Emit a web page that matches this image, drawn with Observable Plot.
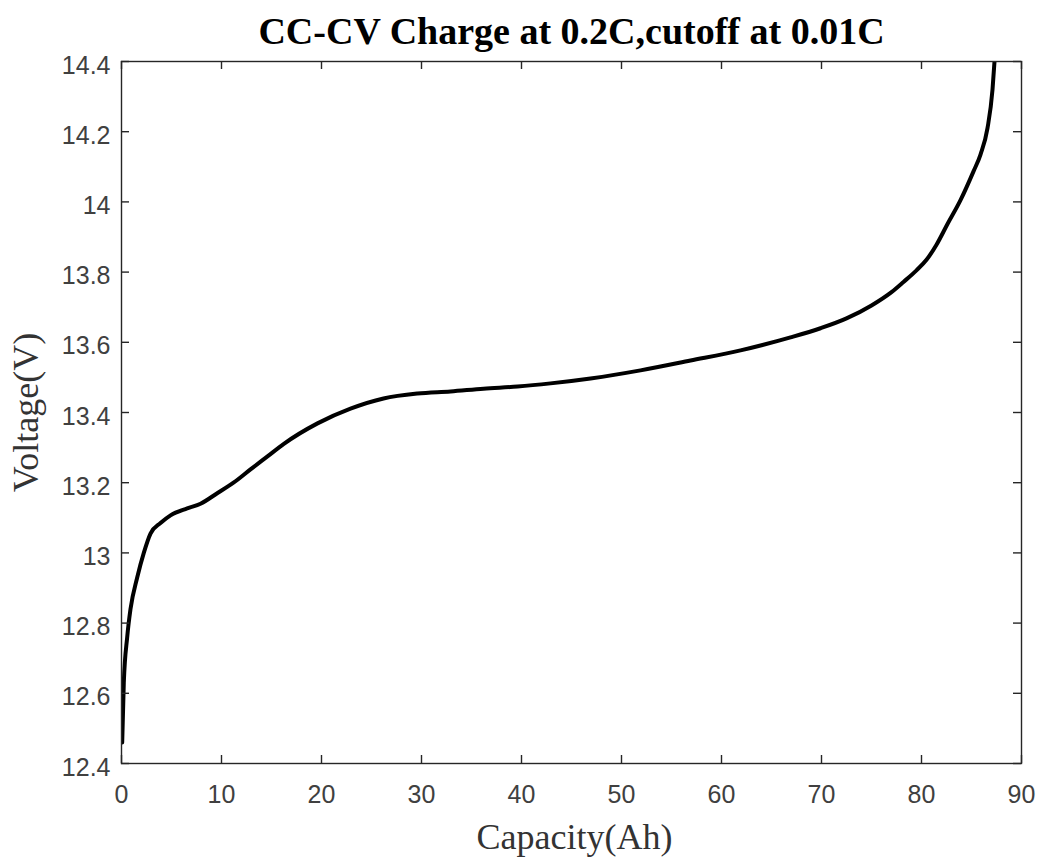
<!DOCTYPE html>
<html>
<head>
<meta charset="utf-8">
<script src="https://cdn.jsdelivr.net/npm/d3@7"></script>
<script src="https://cdn.jsdelivr.net/npm/@observablehq/plot@0.6"></script>
<style>
  html, body { margin: 0; padding: 0; background: #fff; }
  #chart { width: 1040px; height: 857px; }
</style>
</head>
<body>
<div id="chart"></div>
<script>
const titleText = "CC-CV Charge at 0.2C,cutoff at 0.01C";
const xLabel = "Capacity(Ah)";
const yLabel = "Voltage(V)";

const capacity = [0.07,0.23,0.57,0.9,1.57,2.23,2.9,3.9,4.9,6.57,7.9,9.57,11.2,12.9,14.6,16.2,19.6,22.9,26.2,29.6,32.9,36.2,39.6,42.9,46.9,51.9,56.9,61.9,66.9,69.9,72.5,75,77,78.2,79.5,80.5,81.5,82.6,83.9,85.2,85.9,86.6,87.1,87.3];
const voltage = [12.46,12.63,12.76,12.84,12.93,13.0,13.055,13.085,13.107,13.127,13.14,13.17,13.2,13.238,13.275,13.31,13.369,13.411,13.44,13.454,13.46,13.468,13.474,13.483,13.497,13.52,13.548,13.577,13.614,13.64,13.668,13.705,13.743,13.772,13.805,13.835,13.878,13.937,14.005,14.087,14.135,14.21,14.32,14.4];

const xTicks = [0,10,20,30,40,50,60,70,80,90];
const yTicks = [12.4,12.6,12.8,13,13.2,13.4,13.6,13.8,14,14.2,14.4];

const data = capacity.map((c, i) => ({c, v: voltage[i]}));

const W = 1040, H = 857;
const mT = 61, mR = 19, mB = 94, mL = 121;
const plotW = W - mL - mR, plotH = H - mT - mB;
const tickLen = 8;
const axisColor = "#262626";
const labelColor = "#404040";
const serif = "'Liberation Serif', 'Times New Roman', serif";
const sans = "'Liberation Sans', Arial, sans-serif";

const chart = Plot.plot({
  width: W,
  height: H,
  marginTop: mT,
  marginRight: mR,
  marginBottom: mB,
  marginLeft: mL,
  style: {fontFamily: sans, fontSize: "25px", color: labelColor, background: "#fff"},
  x: {domain: [0, 90]},
  y: {domain: [12.4, 14.4]},
  marks: [
    Plot.line(data, {x: "c", y: "v", stroke: "#000", strokeWidth: 4, curve: "monotone-x", clip: true}),
    Plot.frame({stroke: axisColor, strokeWidth: 1.4}),
    Plot.tickX(xTicks, {x: d => d, insetTop: plotH - tickLen, stroke: axisColor, strokeWidth: 1.4}),
    Plot.tickX(xTicks, {x: d => d, insetBottom: plotH - tickLen, stroke: axisColor, strokeWidth: 1.4}),
    Plot.tickY(yTicks, {y: d => d, insetRight: plotW - tickLen, stroke: axisColor, strokeWidth: 1.4}),
    Plot.tickY(yTicks, {y: d => d, insetLeft: plotW - tickLen, stroke: axisColor, strokeWidth: 1.4}),
    Plot.axisX({ticks: xTicks, tickSize: 0, tickPadding: 22, label: null, tickFormat: d => String(d), fill: labelColor, fontSize: 25}),
    Plot.axisY({ticks: yTicks, tickSize: 0, tickPadding: 11, label: null, tickFormat: d => String(d), fill: labelColor, fontSize: 25, dy: 4}),
    Plot.text([titleText], {text: d => d, frameAnchor: "top", lineAnchor: "middle", dy: -30, fontSize: 38, fontWeight: "bold", fontFamily: serif, fill: "#000"}),
    Plot.text([xLabel], {text: d => d, frameAnchor: "bottom", lineAnchor: "middle", dx: 3, dy: 74, fontSize: 36, fontFamily: serif, fill: "#333"}),
    Plot.text([yLabel], {text: d => d, frameAnchor: "left", textAnchor: "middle", lineAnchor: "middle", dx: -95, dy: 0, rotate: -90, fontSize: 36, fontFamily: serif, fill: "#333"})
  ]
});
document.getElementById("chart").appendChild(chart);
</script>
</body>
</html>
